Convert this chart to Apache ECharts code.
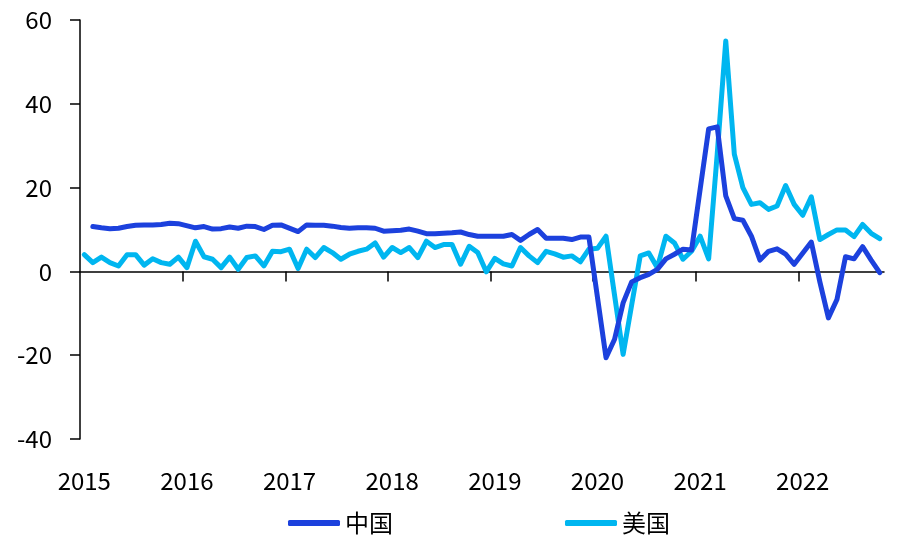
<!DOCTYPE html>
<html>
<head>
<meta charset="utf-8">
<script src="https://cdn.jsdelivr.net/npm/echarts@6/dist/echarts.min.js"></script>
<style>
html,body{margin:0;padding:0;background:#fff;}
#c{width:900px;height:550px;}
</style>
</head>
<body>
<div id="c"></div>
<script>
// Categories: monthly, Jan 2015 - Oct 2022
var years = ['2015','2016','2017','2018','2019','2020','2021','2022'];
var monthsOfYear = ['01','02','03','04','05','06','07','08','09','10','11','12'];
var lastMonthCount = 10; // 2022 data through October

// Tick labels on the y axis
var yTicks = [-40, -20, 0, 20, 40, 60];

// Series names
var seriesNames = ['中国', '美国'];

// China (Jan values are not published separately -> null)
var china = [
  null, 10.7, 10.4, 10.2, 10.3, 10.7, 11.0, 11.1, 11.1, 11.2, 11.5, 11.4,
  null, 10.4, 10.7, 10.1, 10.2, 10.6, 10.3, 10.8, 10.7, 10.0, 11.0, 11.1,
  null, 9.5, 11.1, 11.0, 11.0, 10.8, 10.5, 10.3, 10.4, 10.4, 10.3, 9.6,
  null, 9.8, 10.1, 9.6, 9.0, 9.0, 9.1, 9.2, 9.4, 8.8, 8.4, 8.4,
  null, 8.4, 8.8, 7.4, 8.8, 10.0, 7.9, 7.9, 7.9, 7.6, 8.2, 8.2,
  null, -20.6, -16.2, -7.5, -2.5, -1.5, -0.7, 0.5, 3.0, 4.1, 5.3, 5.1,
  null, 34.0, 34.5, 18.0, 12.6, 12.2, 8.4, 2.7, 4.8, 5.4, 4.1, 1.7,
  null, 7.0, -2.5, -11.1, -6.7, 3.5, 3.0, 5.9, 2.7, -0.3
];

// United States
var usa = [
  4.0, 2.1, 3.4, 2.1, 1.3, 4.0, 4.0, 1.5, 3.0, 2.1, 1.7, 3.4,
  0.9, 7.2, 3.5, 2.9, 0.9, 3.4, 0.5, 3.3, 3.7, 1.3, 4.8, 4.7,
  5.3, 0.7, 5.3, 3.3, 5.7, 4.5, 2.9, 4.1, 4.8, 5.3, 6.8, 3.4,
  5.7, 4.5, 5.7, 3.3, 7.2, 5.7, 6.4, 6.4, 1.7, 6.0, 4.5, -0.1,
  3.1, 1.8, 1.3, 5.7, 3.7, 2.1, 4.8, 4.2, 3.4, 3.7, 2.3, 5.3,
  5.5, 8.4, -5.7, -19.8, -8.0, 3.7, 4.4, 0.9, 8.4, 6.8, 2.9, 4.8,
  8.4, 3.0, 28.0, 55.0, 28.0, 20.0, 16.0, 16.4, 14.8, 15.6, 20.5, 16.0,
  13.4, 17.8, 7.6, 8.8, 9.9, 9.9, 8.3, 11.2, 9.1, 7.8
];

var categories = [];
years.forEach(function (y, yi) {
  var n = (yi === years.length - 1) ? lastMonthCount : 12;
  for (var m = 0; m < n; m++) categories.push(y + '-' + monthsOfYear[m]);
});

// Year boundaries (in months from the start) where the zero-line ticks sit
var yearBoundaries = [];
for (var k = 1; k < years.length; k++) yearBoundaries.push(k * 12);

var FONT = '"Noto Sans CJK SC", "Noto Sans", sans-serif';
var chart = echarts.init(document.getElementById('c'), null, {renderer: 'canvas'});

chart.setOption({
  animation: false,
  backgroundColor: '#ffffff',
  textStyle: {fontFamily: FONT},
  legend: {
    data: seriesNames,
    bottom: 10,
    left: 283,
    itemGap: 172,
    itemWidth: 52,
    itemHeight: 6,
    icon: 'roundRect',
    textStyle: {fontFamily: FONT, fontSize: 24, color: '#000'}
  },
  grid: {left: 80, right: 16, top: 20, bottom: 111, containLabel: false},
  xAxis: [
    {
      // data axis (carries the series), labels at the bottom
      type: 'category',
      data: categories,
      boundaryGap: true,
      position: 'bottom',
      axisLine: {show: false, onZero: false},
      axisTick: {show: false},
      axisLabel: {
        show: true,
        interval: function (i) { return i % 12 === 0; },
        formatter: function (v) { return v.slice(0, 4); },
        fontFamily: FONT,
        fontSize: 24,
        color: '#000',
        margin: 30
      },
      splitLine: {show: false}
    },
    {
      // zero line with ticks at year boundaries
      type: 'value',
      min: 0,
      max: categories.length,
      position: 'bottom',
      axisLine: {show: true, onZero: true, lineStyle: {color: '#000', width: 1.5}},
      axisTick: {
        show: true,
        length: 10,
        customValues: yearBoundaries,
        lineStyle: {color: '#000', width: 1.5}
      },
      axisLabel: {show: false},
      splitLine: {show: false}
    }
  ],
  yAxis: {
    type: 'value',
    min: yTicks[0],
    max: yTicks[yTicks.length - 1],
    interval: 20,
    axisLine: {show: true, lineStyle: {color: '#000', width: 1.5}},
    axisTick: {show: true, inside: false, length: 10, lineStyle: {color: '#000', width: 1.5}},
    axisLabel: {fontFamily: FONT, fontSize: 24, color: '#000', margin: 28},
    splitLine: {show: false}
  },
  series: [
    {
      name: seriesNames[0],
      type: 'line',
      data: china,
      xAxisIndex: 0,
      connectNulls: true,
      showSymbol: false,
      symbol: 'none',
      lineStyle: {color: '#1c41dd', width: 5, cap: 'round', join: 'round'},
      itemStyle: {color: '#1c41dd'},
      z: 3
    },
    {
      name: seriesNames[1],
      type: 'line',
      data: usa,
      xAxisIndex: 0,
      connectNulls: true,
      showSymbol: false,
      symbol: 'none',
      lineStyle: {color: '#00b6f0', width: 5, cap: 'round', join: 'round'},
      itemStyle: {color: '#00b6f0'},
      z: 2
    }
  ]
});
</script>
</body>
</html>
